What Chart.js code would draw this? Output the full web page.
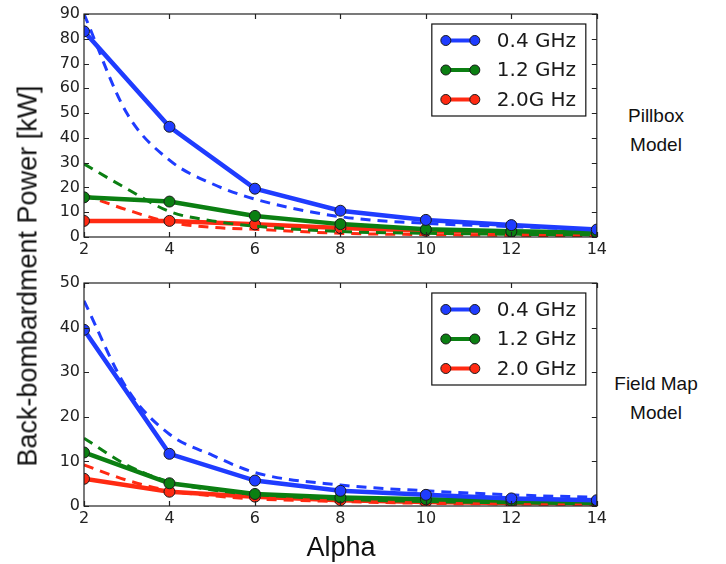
<!DOCTYPE html>
<html>
<head>
<meta charset="utf-8">
<script src="https://cdn.jsdelivr.net/npm/chart.js@4/dist/chart.umd.min.js"></script>
<style>
  body { margin: 0; background: #fff; }
  #page { position: relative; width: 726px; height: 564px; overflow: hidden; font-family: 'Liberation Sans', Arial, sans-serif; }
  .panel { position: absolute; left: 40px; width: 570px; }
  #topPanel { top: 0; height: 262px; }
  #bottomPanel { top: 262px; height: 270px; }
  #yTitle {
    position: absolute; left: 28px; top: 276px; white-space: nowrap;
    transform: translate(-50%, -50%) rotate(-90deg);
    font-size: 27px; color: #111;
  }
  #xTitle { position: absolute; left: 341px; top: 547px; transform: translate(-50%, -50%); font-size: 27px; color: #111; }
  .side { position: absolute; left: 656px; transform: translate(-50%, -50%); text-align: center; white-space: nowrap; font-size: 19px; line-height: 29px; color: #111; }
</style>
</head>
<body>
<div id="page">
  <div class="panel" id="topPanel"><canvas id="pillboxChart"></canvas></div>
  <div class="panel" id="bottomPanel"><canvas id="fieldMapChart"></canvas></div>
  <div id="yTitle">Back-bombardment Power [kW]</div>
  <div id="xTitle">Alpha</div>
  <div class="side" style="top:130px">Pillbox<br>Model</div>
  <div class="side" style="top:398px">Field Map<br>Model</div>
</div>
<script>
// simulated points (solid) at each alpha
const alphaValues = [2, 4, 6, 8, 10, 12, 14];
const pillbox04 = [83, 44.5, 19.5, 10.6, 6.9, 4.8, 3.0];
const pillbox12 = [16, 14.3, 8.5, 5.2, 3.1, 2.3, 1.8];
const pillbox20 = [6.5, 6.5, 5.1, 3.6, 2.5, 2.0, 1.5];
const fieldMap04 = [39.5, 11.7, 5.7, 3.4, 2.5, 1.7, 1.3];
const fieldMap12 = [12, 5.1, 2.7, 1.9, 1.5, 1.2, 1.0];
const fieldMap20 = [6.1, 3.2, 2.1, 1.3, 0.9, 0.7, 0.6];

// analytic estimate (dashed)
const fitAlpha = [2, 3, 4, 5, 6, 8, 10, 12, 14];
const pillboxFit04 = [90, 50, 31, 21.5, 15.3, 8.2, 5.5, 4.2, 3.0];
const pillboxFit12 = [29.5, 19.5, 10.3, 6.5, 4.4, 2.2, 1.5, 1.1, 0.8];
const pillboxFit20 = [17, 11, 6, 3.9, 3.1, 1.5, 1.0, 0.7, 0.5];
const fieldMapFit04 = [46, 26.4, 16.1, 11.4, 7.5, 4.7, 3.4, 2.5, 1.95];
const fieldMapFit12 = [15.2, 9.2, 5.4, 3.6, 2.6, 1.5, 1.0, 0.7, 0.5];
const fieldMapFit20 = [9.2, 5.8, 3.4, 2.3, 1.6, 1.0, 0.6, 0.45, 0.35];

const xTicks = [2, 4, 6, 8, 10, 12, 14];
const pillboxLabels = ['0.4 GHz', '1.2 GHz', '2.0G Hz'];
const fieldMapLabels = ['0.4 GHz', '1.2 GHz', '2.0 GHz'];

const BLUE = '#1f3cff';
const GREEN = '#0b7f12';
const RED = '#ff2a12';
const tickFont = { family: "'DejaVu Sans', sans-serif", size: 16 };

const toPoints = (xs, ys) => xs.map((x, i) => ({ x, y: ys[i] }));

const solid = (label, values, color, order) => ({
  label,
  data: toPoints(alphaValues, values),
  borderColor: color,
  backgroundColor: color,
  borderWidth: 4.5,
  pointRadius: 5.5,
  pointBorderWidth: 1,
  pointBorderColor: '#1a1a1a',
  pointBackgroundColor: color,
  order,
});

const dashed = (values, color, order) => ({
  label: '',
  data: toPoints(fitAlpha, values),
  borderColor: color,
  borderWidth: 3,
  borderDash: [10, 7],
  pointRadius: 0,
  cubicInterpolationMode: 'monotone',
  order,
});

// cut lines and markers at the axes box
const clipToArea = {
  id: 'clipToArea',
  beforeDatasetsDraw(chart) {
    const { ctx, chartArea } = chart;
    ctx.save();
    ctx.beginPath();
    ctx.rect(chartArea.left, chartArea.top, chartArea.right - chartArea.left, chartArea.bottom - chartArea.top);
    ctx.clip();
  },
  afterDatasetsDraw(chart) {
    chart.ctx.restore();
  },
};

// frame on all four sides with inward tick marks
const frameTicks = {
  id: 'frameTicks',
  afterDatasetsDraw(chart) {
    const { ctx, chartArea, scales } = chart;
    const { left, right, top, bottom } = chartArea;
    ctx.save();
    ctx.strokeStyle = '#222';
    ctx.lineWidth = 1.2;
    ctx.strokeRect(left, top, right - left, bottom - top);
    ctx.beginPath();
    scales.x.ticks.forEach((t) => {
      const px = Math.round(scales.x.getPixelForValue(t.value)) + 0.5;
      ctx.moveTo(px, bottom); ctx.lineTo(px, bottom - 5);
      ctx.moveTo(px, top); ctx.lineTo(px, top + 5);
    });
    scales.y.ticks.forEach((t) => {
      const py = Math.round(scales.y.getPixelForValue(t.value)) + 0.5;
      ctx.moveTo(left, py); ctx.lineTo(left + 5, py);
      ctx.moveTo(right, py); ctx.lineTo(right - 5, py);
    });
    ctx.stroke();
    ctx.restore();
  },
};

// boxed legend with two markers per line
const boxLegend = {
  id: 'boxLegend',
  afterDraw(chart) {
    const { ctx, chartArea } = chart;
    const x0 = chartArea.right - 11 - 154;
    const y0 = chartArea.top + 10;
    ctx.save();
    ctx.fillStyle = '#fff';
    ctx.fillRect(x0, y0, 154, 92);
    ctx.strokeStyle = '#111';
    ctx.lineWidth = 1.2;
    ctx.strokeRect(x0, y0, 154, 92);
    const items = chart.data.datasets.filter((d) => !d.borderDash);
    items.forEach((d, i) => {
      const cy = y0 + 16.5 + i * 29.5;
      ctx.strokeStyle = d.borderColor;
      ctx.lineWidth = 4;
      ctx.beginPath();
      ctx.moveTo(x0 + 14, cy);
      ctx.lineTo(x0 + 43, cy);
      ctx.stroke();
      [x0 + 14, x0 + 43].forEach((mx) => {
        ctx.beginPath();
        ctx.arc(mx, cy, 5, 0, Math.PI * 2);
        ctx.fillStyle = d.borderColor;
        ctx.fill();
        ctx.lineWidth = 1;
        ctx.strokeStyle = '#1a1a1a';
        ctx.stroke();
      });
      ctx.fillStyle = '#1a1a1a';
      ctx.font = "20px 'DejaVu Sans', sans-serif";
      ctx.textBaseline = 'middle';
      ctx.fillText(d.label, x0 + 65, cy + 1);
    });
    ctx.restore();
  },
};

const makeChart = (canvas, datasets, yMax, padTop, xHeight) =>
  new Chart(canvas, {
    type: 'line',
    data: { datasets },
    plugins: [clipToArea, frameTicks, boxLegend],
    options: {
      responsive: true,
      maintainAspectRatio: false,
      animation: false,
      devicePixelRatio: 1,
      layout: { padding: { top: padTop, right: 13, left: 0, bottom: 0 } },
      plugins: { legend: { display: false }, tooltip: { enabled: false } },
      scales: {
        x: {
          type: 'linear',
          min: 2,
          max: 14,
          afterBuildTicks: (scale) => {
            scale.ticks = xTicks.map((v) => ({ value: v }));
          },
          afterFit: (scale) => {
            scale.height = xHeight;
          },
          grid: { display: false, drawTicks: false },
          border: { display: false },
          ticks: { font: tickFont, color: '#222', padding: 3, maxRotation: 0 },
        },
        y: {
          min: 0,
          max: yMax,
          afterFit: (scale) => {
            scale.width = 44;
          },
          grid: { display: false, drawTicks: false },
          border: { display: false },
          ticks: { font: tickFont, color: '#222', padding: 4, stepSize: 10 },
        },
      },
    },
  });

makeChart(
  document.getElementById('pillboxChart'),
  [
    solid(pillboxLabels[0], pillbox04, BLUE, 1),
    solid(pillboxLabels[1], pillbox12, GREEN, 3),
    solid(pillboxLabels[2], pillbox20, RED, 5),
    dashed(pillboxFit04, BLUE, 2),
    dashed(pillboxFit12, GREEN, 4),
    dashed(pillboxFit20, RED, 6),
  ],
  90,
  14,
  25,
);

makeChart(
  document.getElementById('fieldMapChart'),
  [
    solid(fieldMapLabels[0], fieldMap04, BLUE, 1),
    solid(fieldMapLabels[1], fieldMap12, GREEN, 3),
    solid(fieldMapLabels[2], fieldMap20, RED, 5),
    dashed(fieldMapFit04, BLUE, 2),
    dashed(fieldMapFit12, GREEN, 4),
    dashed(fieldMapFit20, RED, 6),
  ],
  50,
  21,
  26,
);
</script>
</body>
</html>
